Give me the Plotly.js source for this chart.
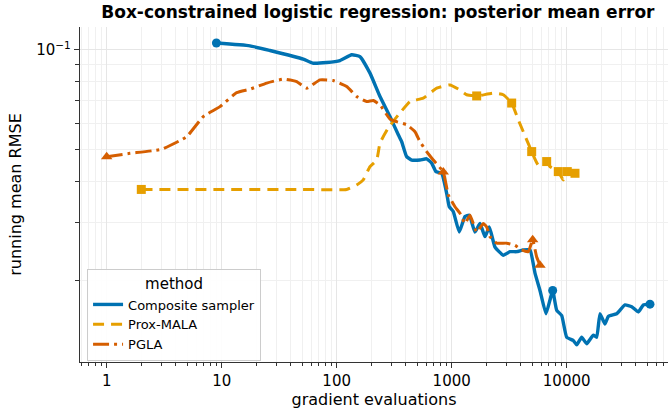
<!DOCTYPE html>
<html>
<head>
<meta charset="utf-8">
<script src="https://cdn.plot.ly/plotly-3.0.1.min.js"></script>
<style>html,body{margin:0;padding:0;background:#fff;}#chart{width:670px;height:415px;}</style>
</head>
<body>
<div id="chart"></div>
<script>
// ---- data ----
const compositeX = [9, 17.6, 26.3, 51.2, 61.8, 81.9, 106.8, 135, 159.4, 194.8, 238, 290.7, 343.4, 367.5, 406.1, 449, 530, 606, 670, 730, 818.6, 904.5, 953, 1032, 1164, 1305, 1422, 1594, 1763, 1948, 2123, 2380, 2810, 3214, 3675, 4194, 4797, 5302, 5860, 6607, 7158, 7556, 8185, 9048, 10000, 11415, 12218, 13503, 14925, 17033, 18235, 19480, 21530, 22999, 27210, 32140, 36750, 41940, 46370, 53010];
const compositeY = [0.1048, 0.1028, 0.0995, 0.0937, 0.0911, 0.0915, 0.0928, 0.0966, 0.0954, 0.0850, 0.0722, 0.0628, 0.0553, 0.0527, 0.0475, 0.0464, 0.0464, 0.0468, 0.0454, 0.0428, 0.0423, 0.0368, 0.0335, 0.0324, 0.0281, 0.0313, 0.0316, 0.0281, 0.0298, 0.0272, 0.0291, 0.0253, 0.0239, 0.0245, 0.0245, 0.0248, 0.0248, 0.0211, 0.0187, 0.0159, 0.0175, 0.0187, 0.0163, 0.0157, 0.0135, 0.0132, 0.0128, 0.0135, 0.0129, 0.0137, 0.0135, 0.0159, 0.0148, 0.0156, 0.0159, 0.0169, 0.0167, 0.0161, 0.0169, 0.0170];
const compositeMarked = [0, 41, 59];

const proxX = [2, 10, 50, 122, 149.3, 170.3, 194.8, 222.8, 238, 281, 343.4, 434, 566, 740.6, 966.5, 1181, 1350, 1650, 2300, 2810, 3324, 3794, 4490, 4963, 5662, 6700, 7158, 8453, 9342, 10120, 11810];
const proxY = [0.0378, 0.0378, 0.0378, 0.0378, 0.0390, 0.0404, 0.0443, 0.0464, 0.0522, 0.0580, 0.0635, 0.0697, 0.0714, 0.0765, 0.0783, 0.0756, 0.0731, 0.0725, 0.0739, 0.0731, 0.0690, 0.0614, 0.0534, 0.0492, 0.0448, 0.0459, 0.0443, 0.0428, 0.0404, 0.0428, 0.0423];
const proxMarked = [0, 17, 20, 23, 25, 27, 29, 30];

const pglaX = [1, 1.594, 3.008, 4.963, 6.918, 9.665, 13.5, 17.62, 24.63, 34.34, 44.89, 54.83, 71.58, 93.4, 122.2, 149.3, 182.4, 208.1, 238, 290.7, 332.4, 406.1, 479.7, 530, 606, 691.8, 845, 934, 1068, 1181, 1305, 1443, 1650, 1883, 2015, 2153, 2462, 3008, 3552, 4061, 4636, 5062, 5485, 5860];
const pglaY = [0.0475, 0.0486, 0.0500, 0.0546, 0.0628, 0.0673, 0.0742, 0.0760, 0.0793, 0.0815, 0.0801, 0.0765, 0.0811, 0.0807, 0.0774, 0.0722, 0.0697, 0.0702, 0.0681, 0.0617, 0.0606, 0.0593, 0.0565, 0.0527, 0.0492, 0.0464, 0.0427, 0.0364, 0.0335, 0.0320, 0.0298, 0.0316, 0.0281, 0.0298, 0.0291, 0.0272, 0.0260, 0.0260, 0.0256, 0.0248, 0.0245, 0.0266, 0.0236, 0.0223];
const pglaMarked = [0, 26, 41, 43];

const seriesNames = ['Composite sampler', 'Prox-MALA', 'PGLA'];
const xMajorTicks = [1, 10, 100, 1000, 10000];
const xMajorLabels = ['1', '10', '100', '1000', '10000'];
const yMajorTicks = [0.1];
const yMajorLabels = ['10<sup>\u22121</sup>'];

// ---- styling ----
const colors = ['#0072B2', '#E69F00', '#D55E00'];
const FONT = 'DejaVu Sans, sans-serif';

function pick(arr, idx) { return idx.map(i => arr[i]); }
function minorVals(lo, hi) {
  const v = [];
  for (let e = lo; e <= hi; e++) for (let k = 2; k <= 9; k++) v.push(k * Math.pow(10, e));
  return v;
}

const traces = [
  {x: compositeX, y: compositeY, name: seriesNames[0], mode: 'lines',
   line: {color: colors[0], width: 3.4, shape: 'spline', smoothing: 0.4}},
  {x: proxX, y: proxY, name: seriesNames[1], mode: 'lines',
   line: {color: colors[1], width: 3, dash: '11px,7px', shape: 'spline', smoothing: 0.4}},
  {x: pglaX, y: pglaY, name: seriesNames[2], mode: 'lines',
   line: {color: colors[2], width: 3, dash: '16px,5px,3px,5px', shape: 'spline', smoothing: 0.4}},
  {x: pick(compositeX, compositeMarked), y: pick(compositeY, compositeMarked), mode: 'markers', showlegend: false,
   marker: {color: colors[0], size: 9, symbol: 'circle'}},
  {x: pick(proxX, proxMarked), y: pick(proxY, proxMarked), mode: 'markers', showlegend: false,
   marker: {color: colors[1], size: 9, symbol: 'square'}},
  {x: pick(pglaX, pglaMarked), y: pick(pglaY, pglaMarked), mode: 'markers', showlegend: false,
   marker: {color: colors[2], size: 10, symbol: 'triangle-up'}}
];

const axisCommon = {
  type: 'log', showline: true, linecolor: '#333', linewidth: 1.2, mirror: false,
  ticks: 'outside', ticklen: 5, tickcolor: '#333', tickwidth: 1,
  showgrid: true, gridcolor: '#e6e6e6', gridwidth: 1, zeroline: false,
  tickfont: {family: FONT, size: 15, color: '#000'}
};

const layout = {
  width: 670, height: 415,
  margin: {l: 80, r: 2, t: 27, b: 53},
  paper_bgcolor: '#fff', plot_bgcolor: '#fff',
  font: {family: FONT, color: '#000'},
  title: {text: '<b>Box-constrained logistic regression: posterior mean error</b>',
          font: {family: FONT, size: 17, color: '#000'}, x: 0.564, xanchor: 'center', y: 0.97, yanchor: 'middle'},
  xaxis: Object.assign({}, axisCommon, {
    range: [-0.232, 4.881],
    tickmode: 'array', tickvals: xMajorTicks, ticktext: xMajorLabels,
    minor: {tickmode: 'array', tickvals: minorVals(-1, 4), ticks: 'outside', ticklen: 3, tickcolor: '#333',
            showgrid: true, gridcolor: '#f0f0f0', gridwidth: 1},
    title: {text: 'gradient evaluations', font: {family: FONT, size: 16, color: '#000'}, standoff: 4}
  }),
  yaxis: Object.assign({}, axisCommon, {
    range: [Math.log10(0.01136), Math.log10(0.1172)],
    tickmode: 'array', tickvals: yMajorTicks, ticktext: yMajorLabels,
    minor: {tickmode: 'array', tickvals: minorVals(-2, -2), ticks: 'outside', ticklen: 4, tickcolor: '#333',
            showgrid: true, gridcolor: '#f0f0f0', gridwidth: 1},
    title: {text: 'running mean RMSE', font: {family: FONT, size: 16, color: '#000'}, standoff: 10}
  }),
  legend: {
    x: 0.012, y: 0.003, xanchor: 'left', yanchor: 'bottom',
    bgcolor: 'rgba(255,255,255,0.9)', bordercolor: '#cccccc', borderwidth: 1,
    font: {family: FONT, size: 13, color: '#000'},
    title: {text: 'method', side: 'top center', font: {family: FONT, size: 15, color: '#000'}},
    tracegroupgap: 0
  },
  showlegend: true
};

Plotly.newPlot('chart', traces, layout, {displayModeBar: false, staticPlot: true});
</script>
</body>
</html>
